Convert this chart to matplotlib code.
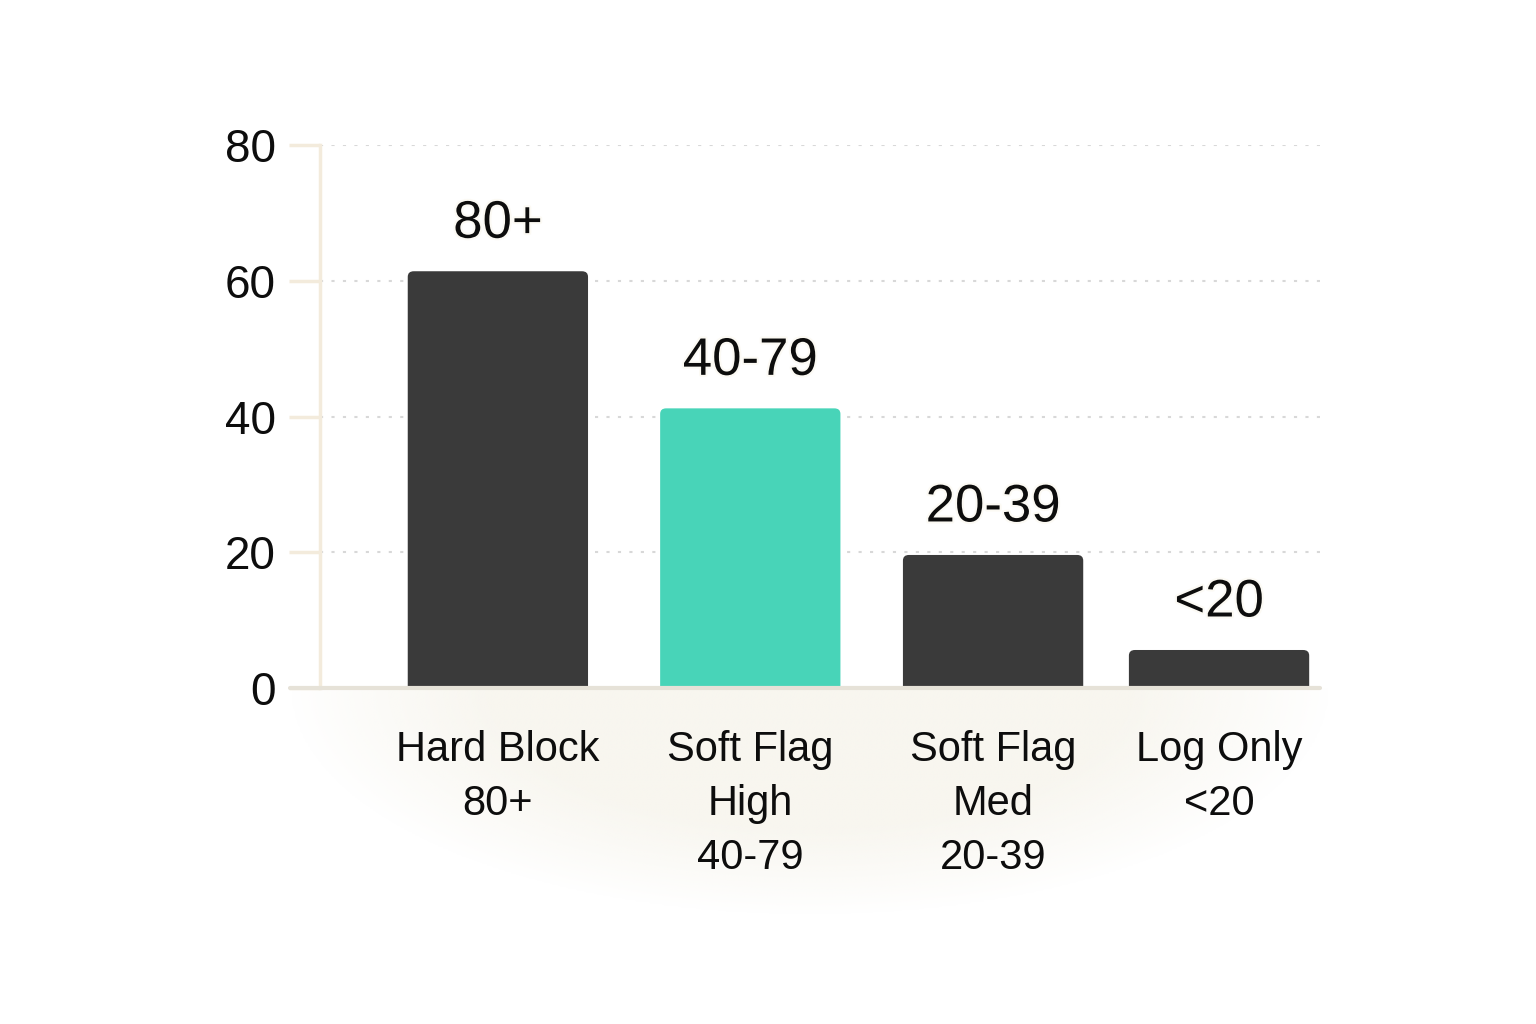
import numpy as np
import matplotlib.pyplot as plt
from matplotlib.patches import FancyBboxPatch
import matplotlib.patheffects as pe

# Datos del gráfico
categories = ["Hard Block\n80+", "Soft Flag\nHigh\n40-79", "Soft Flag\nMed\n20-39", "Log Only\n<20"]
values = [61.4, 41.2, 19.6, 5.6]
value_labels = ["80+", "40-79", "20-39", "<20"]
y_ticks = [0, 20, 40, 60, 80]

plt.rcParams['font.family'] = ['Liberation Sans', 'DejaVu Sans']

fig = plt.figure(figsize=(15.36, 10.24), dpi=100)
W, H = 1536, 1024

# sombra beige bajo el eje
bg = fig.add_axes([290 / W, 1 - 915 / H, 1040 / W, 227 / H], zorder=0)
xx, yy = np.meshgrid(np.linspace(-1, 1, 400), np.linspace(0, 1, 120))
r = np.sqrt(xx ** 2 + yy ** 2)
alpha = np.clip((1.0 - r) / 0.4, 0, 1) ** 0.9
img = np.zeros((120, 400, 4))
img[..., 0] = 0xf8 / 255
img[..., 1] = 0xf6 / 255
img[..., 2] = 0xef / 255
img[..., 3] = alpha
bg.imshow(img, extent=(0, 1, 0, 1), aspect='auto', origin='upper')
bg.axis('off')

ax = fig.add_axes([320 / W, 1 - 688 / H, 1000 / W, 543 / H], zorder=1)
ax.patch.set_alpha(0)

# separación algo irregular, como en el original
x = np.array([0, 1.05, 2.06, 3.0])
bars = ax.bar(x, values, width=0.75, color='none')
for i, b in enumerate(bars):
    color = '#48d4b8' if i == 1 else '#3a3a3a'
    patch = FancyBboxPatch((b.get_x(), -2), b.get_width(), b.get_height() + 2,
                           boxstyle="round,pad=0,rounding_size=0.025",
                           mutation_aspect=33, facecolor=color, edgecolor='none',
                           zorder=3)
    ax.add_patch(patch)
    ax.text(b.get_x() + b.get_width() / 2, values[i] + 7, value_labels[i],
            ha='center', va='center', fontsize=38, color='#0d0d0d', zorder=4,
            path_effects=[pe.withStroke(linewidth=3, foreground='#fcfaf4')])

ax.set_xlim(-0.74, 3.42)
ax.set_ylim(0, 80)
ax.set_yticks(y_ticks)
ax.set_xticks(x)
ax.set_xticklabels(categories, fontsize=30, linespacing=1.45, color='#0d0d0d')
ax.tick_params(axis='y', labelsize=33, length=22, width=2.5, color='#f3ebdc',
               pad=10, labelcolor='#0d0d0d')
ax.tick_params(axis='x', length=0, pad=30)

for s in ['top', 'right', 'bottom']:
    ax.spines[s].set_visible(False)
ax.spines['left'].set_color('#f3ebdc')
ax.spines['left'].set_linewidth(2.5)

ax.yaxis.grid(True, linestyle=(0, (1.5, 4)), color='#d8d8d8', linewidth=1.5)
ax.set_axisbelow(True)

# linea base extendida
ax.plot([-30 / 1000, 1.0], [0, 0], transform=ax.get_yaxis_transform(), color='#e6e2d8',
        linewidth=3, clip_on=False, zorder=5, solid_capstyle='round')

fig.savefig('out.png', dpi=100, facecolor='white')
